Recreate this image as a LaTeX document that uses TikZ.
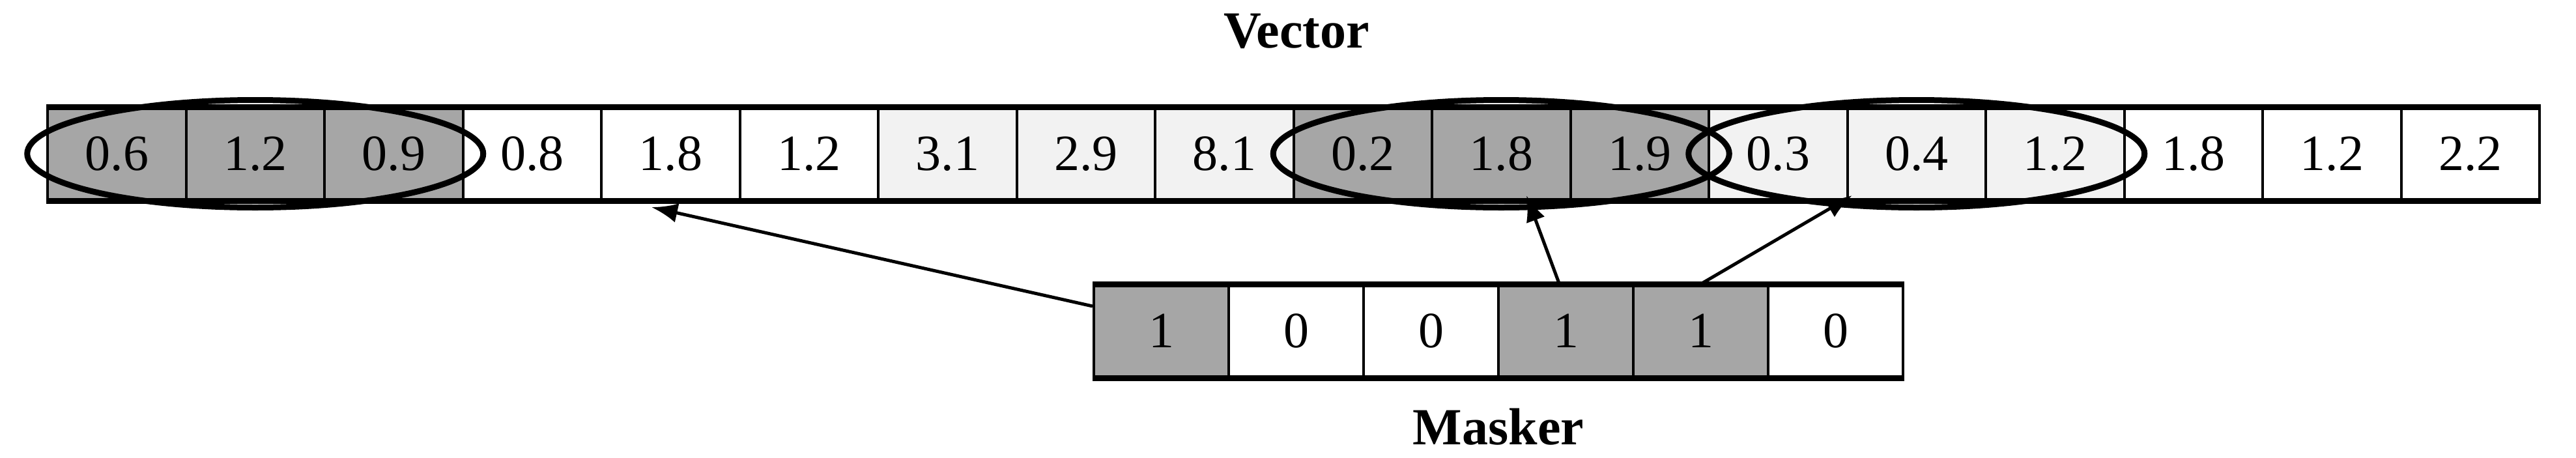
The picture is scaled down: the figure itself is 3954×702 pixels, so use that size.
\documentclass[tikz,border=0pt]{standalone}
\usepackage{fontspec}
\setmainfont{Liberation Serif}
\usetikzlibrary{shapes.geometric,arrows.meta}
\begin{document}
\begin{tikzpicture}[x=1pt,y=-1pt,
  cell/.style={draw=black,line width=4pt,minimum width=212.5pt,minimum height=140pt,inner sep=0pt,font=\fontsize{78}{90}\selectfont,anchor=north west},
  mcell/.style={cell,minimum width=207pt},
  dk/.style={fill=black!35},
  lt/.style={fill=black!5},
  ring/.style={draw=black,line width=9pt,ellipse,minimum width=700pt,minimum height=165pt},
  arr/.style={-{Latex[length=40pt,width=30pt]},line width=5pt},
  ttl/.style={font=\fontsize{80}{90}\selectfont\bfseries}]
\useasboundingbox (0,0) rectangle (3954,702);
\def\vals{0.6/dk,1.2/dk,0.9/dk,0.8/,1.8/,1.2/,3.1/lt,2.9/lt,8.1/lt,0.2/dk,1.8/dk,1.9/dk,0.3/lt,0.4/lt,1.2/lt,1.8/,1.2/,2.2/}
\foreach \v/\s [count=\i from 0] in \vals {
  \node[cell,\s] (v\i) at (71+212.5*\i,164) {\v};
}
\foreach \v/\s [count=\i from 0] in {1/dk,0/,0/,1/dk,1/dk,0/} {
  \node[mcell,\s] (m\i) at (1677+207*\i,436) {\v};
}
\draw[line width=9pt] (v0.north west) -- (v17.north east) (v0.south west) -- (v17.south east);
\draw[line width=9pt] (m0.north west) -- (m5.north east) (m0.south west) -- (m5.south east);
\node[ring] (e1) at (v1.center) {};
\node[ring] (e2) at (v10.center) {};
\node[ring] (e3) at (v13.center) {};
\node[ttl] (vt) at (1990,48) {Vector};
\node[ttl] (mt) at (2300,655) {Masker};
\coordinate (t1) at (1000,318);
\coordinate (t2) at (2343,300);
\coordinate (t3) at (2843,300);
\path (m0.north west) ++(0,34) coordinate (s1);
\path (m3.north) ++(-10,0) coordinate (s2);
\path (m4.north) coordinate (s3);
\draw[arr] (s1) -- (t1);
\draw[arr] (s2) -- (t2);
\draw[arr] (s3) -- (t3);
\end{tikzpicture}
\end{document}
